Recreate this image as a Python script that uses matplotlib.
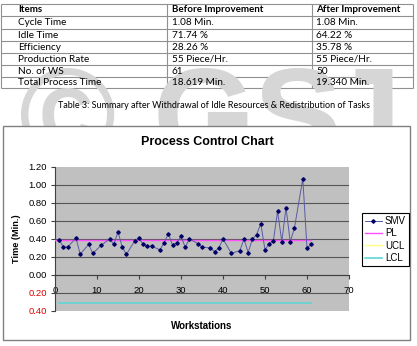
import matplotlib
matplotlib.use("Agg")
import matplotlib.pyplot as plt
from matplotlib.lines import Line2D
from matplotlib.patches import Rectangle

# table data
table_header = ["Items", "Before Improvement", "After Improvement"]
table_items = ["Cycle Time", "Idle Time", "Efficiency", "Production Rate",
               "No. of WS", "Total Process Time"]
table_before = ["1.08 Min.", "71.74 %", "28.26 %", "55 Piece/Hr.", "61", "18.619 Min."]
table_after = ["1.08 Min.", "64.22 %", "35.78 %", "55 Piece/Hr.", "50", "19.340 Min."]
caption = "Table 3: Summary after Withdrawal of Idle Resources & Redistribution of Tasks"

# chart data
workstations = [1, 2, 3, 5, 6, 8, 9, 11, 13, 14, 15, 16, 17, 19, 20, 21, 22, 23,
                25, 26, 27, 28, 29, 30, 31, 32, 34, 35, 37, 38, 39, 40, 42, 44,
                45, 46, 47, 48, 49, 50, 51, 52, 53, 54, 55, 56, 57, 59, 60, 61]
smv = [0.39, 0.31, 0.31, 0.41, 0.23, 0.34, 0.24, 0.33, 0.40, 0.34, 0.48, 0.31,
       0.23, 0.38, 0.41, 0.34, 0.32, 0.32, 0.28, 0.36, 0.46, 0.33, 0.36, 0.43,
       0.31, 0.40, 0.35, 0.31, 0.30, 0.26, 0.30, 0.40, 0.24, 0.27, 0.40, 0.25,
       0.40, 0.45, 0.57, 0.28, 0.35, 0.38, 0.71, 0.37, 0.75, 0.37, 0.52, 1.07,
       0.30, 0.34]
pl_x = [0, 61]
pl_y = [0.387, 0.387]
lcl_x = [1, 61]
lcl_y = [-0.31, -0.31]
y_ticks = [-0.4, -0.2, 0.0, 0.2, 0.4, 0.6, 0.8, 1.0, 1.2]
y_labels = ["0.40", "0.20", "0.00", "0.20", "0.40", "0.60", "0.80", "1.00", "1.20"]
x_ticks = [0, 10, 20, 30, 40, 50, 60, 70]

W, H = 417, 346
fig = plt.figure(figsize=(W / 100, H / 100), dpi=100)

# page layer in pixel coords
page = fig.add_axes([0, 0, 1, 1])
page.set_xlim(0, W)
page.set_ylim(H, 0)
page.axis("off")

tfont = "Lato"
row_lines = [3.5, 16, 29, 41, 53, 65, 77, 88]
col_lines = [1, 167, 312, 413]
page.hlines(row_lines, col_lines[0], col_lines[-1], color="#909090", lw=0.8, zorder=1)
page.vlines(col_lines, row_lines[0], row_lines[-1], color="#909090", lw=0.8, zorder=1)
col_x = [18, 172, 316]
for j, h in enumerate(table_header):
    page.text(col_x[j], (row_lines[0] + row_lines[1]) / 2, h, fontsize=7.0,
              fontweight="bold", family=tfont, va="center", zorder=3)
for i in range(len(table_items)):
    yc = (row_lines[i + 1] + row_lines[i + 2]) / 2
    for j, v in enumerate([table_items[i], table_before[i], table_after[i]]):
        page.text(col_x[j], yc, v, fontsize=7.2, family=tfont, va="center", zorder=3)
page.text(214, 106, caption, fontsize=6.5, family=tfont, ha="center", va="center", zorder=3)

# watermark
for ch, cx in zip(["©", "G", "S", "J"], [68, 204, 297, 365]):
    page.text(cx, 160, ch, fontsize=95, family="Liberation Sans", fontweight="bold",
              color="#d6d6d6", ha="center", va="baseline", zorder=2)

# chart box
page.add_patch(Rectangle((3, 126), 407.5, 214, facecolor="white", edgecolor="#808080",
                         lw=1.0, zorder=4))
cfont = "Liberation Sans"
page.text(207, 142, "Process Control Chart", fontsize=9.0, fontweight="bold",
          family=cfont, ha="center", va="center", zorder=5)
page.text(17, 239, "Time (Min.)", fontsize=6.6, fontweight="bold", family=cfont,
          rotation=90, ha="center", va="center", zorder=5)
page.text(202, 326, "Workstations", fontsize=7.0, fontweight="bold", family=cfont,
          ha="center", va="center", zorder=5)

ax = fig.add_axes([55 / W, 1 - 311 / H, 294 / W, 144 / H])
ax.set_facecolor("#c0c0c0")
ax.set_xlim(0, 70)
ax.set_ylim(-0.4, 1.2)
for s in ["top", "right"]:
    ax.spines[s].set_visible(False)
ax.spines["left"].set_color("#404040")
ax.spines["left"].set_linewidth(0.8)
ax.spines["bottom"].set_position(("data", 0))
ax.spines["bottom"].set_color("#404040")
ax.spines["bottom"].set_linewidth(0.8)
ax.hlines(y_ticks[1:-1], 0, 70, color="#555555", lw=0.8, zorder=1)

ax.set_yticks(y_ticks)
ax.set_yticklabels(y_labels)
for t, v in zip(ax.get_yticklabels(), y_ticks):
    if v < 0:
        t.set_color("#e00000")
ax.set_xticks(x_ticks)
ax.tick_params(axis="both", labelsize=6.8, length=3, width=0.8, color="#404040")
ax.tick_params(axis="x", pad=5)
ax.tick_params(axis="y", pad=3)
for t in ax.get_xticklabels() + ax.get_yticklabels():
    t.set_family(cfont)

ax.plot(workstations, smv, color="#5a5aa6", lw=0.7, marker="D", ms=1.8,
        mfc="#000066", mec="#000066", zorder=4, label="SMV")
ax.plot(pl_x, pl_y, color="#ff50ff", lw=1.0, zorder=3, label="PL")
ax.plot(lcl_x, lcl_y, color="#5fd6d6", lw=1.2, zorder=3, label="LCL")

handles = [
    Line2D([], [], color="#5a5aa6", lw=0.7, marker="D", ms=1.8, mfc="#000066", mec="#000066"),
    Line2D([], [], color="#ff50ff", lw=1.0),
    Line2D([], [], color="#ffff80", lw=1.0),
    Line2D([], [], color="#5fd6d6", lw=1.2),
]
leg = fig.legend(handles, ["SMV", "PL", "UCL", "LCL"], loc="upper left",
                 bbox_to_anchor=(362 / W, 1 - 213 / H),
                 prop={"family": cfont, "size": 7}, frameon=True, fancybox=False,
                 edgecolor="#000000", framealpha=1, borderpad=0.3, handlelength=1.75,
                 handletextpad=0.3, labelspacing=0.25, borderaxespad=0)
leg.get_frame().set_linewidth(0.8)
leg.set_zorder(10)

fig.savefig("out.png", dpi=100)
